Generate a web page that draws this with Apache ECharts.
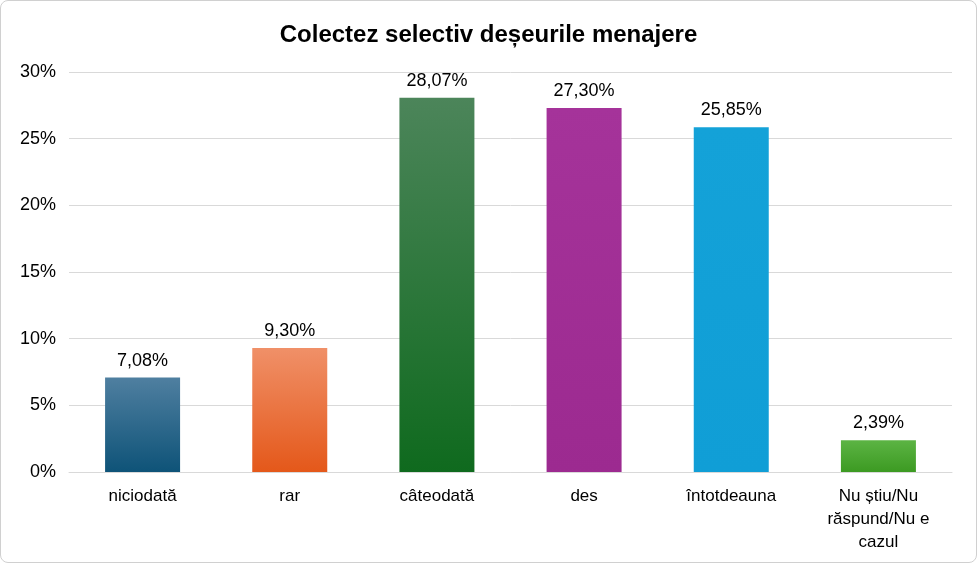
<!DOCTYPE html>
<html><head><meta charset="utf-8">
<script src="https://cdn.jsdelivr.net/npm/echarts@6/dist/echarts.min.js"></script>
<style>html,body{margin:0;padding:0;background:#fff}#c{width:975px;height:561px;border:1px solid #d0d0d0;border-radius:8px;overflow:hidden}</style>
</head><body><div id="c"></div>
<script>
const categories = ["niciodată","rar","câteodată","des","întotdeauna","Nu știu/Nu\nrăspund/Nu e\ncazul"];
const values = [7.08, 9.30, 28.07, 27.30, 25.85, 2.39];
const colorsTop = ["#4f7fa0","#f09068","#4c855a","#a5339a","#14a2d8","#5cb444"];
const colorsBottom = ["#0e5378","#e4581a","#0f6a1e","#9c2a90","#109ed6","#3c9a22"];
const F = 'Liberation Sans';
const chart = echarts.init(document.getElementById('c'));
chart.setOption({
  animation:false,
  title:{text:"Colectez selectiv deșeurile menajere",left:'center',top:17,textStyle:{fontFamily:F,fontSize:24,fontWeight:'bold',color:'#000'}},
  grid:{left:68,right:24,top:71,bottom:90},
  xAxis:{type:'category',data:categories,axisTick:{show:false},axisLine:{lineStyle:{color:'#d9d9d9'}},
    axisLabel:{color:'#000',fontSize:17,fontFamily:F,margin:13,lineHeight:23,interval:0}},
  yAxis:{type:'value',min:0,max:30,interval:5,axisLabel:{formatter:'{value}%',color:'#000',fontSize:18,fontFamily:F,margin:13},
    splitLine:{lineStyle:{color:'#d9d9d9'}}},
  series:[{type:'bar',barWidth:75,
    data:values.map((v,i)=>({value:v,itemStyle:{color:new echarts.graphic.LinearGradient(0,0,0,1,[{offset:0,color:colorsTop[i]},{offset:1,color:colorsBottom[i]}])}})),
    label:{show:true,position:'top',distance:8,color:'#000',fontSize:18,fontFamily:F,formatter:p=>p.value.toFixed(2).replace('.',',')+'%'}}]
});
</script></body></html>
